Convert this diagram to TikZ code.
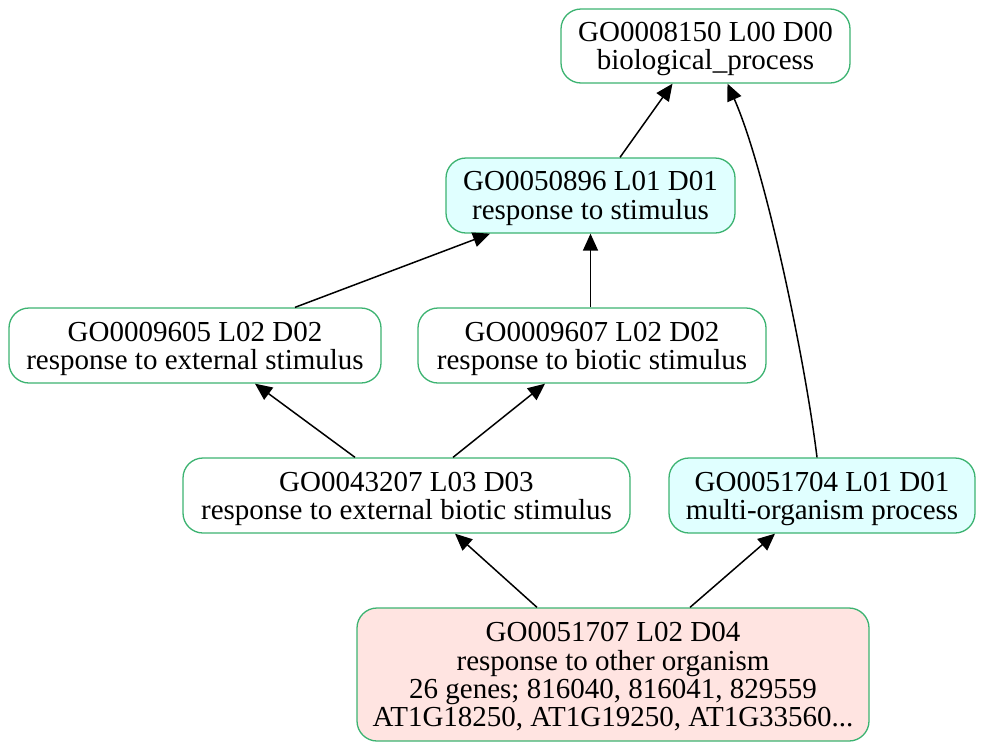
\documentclass[tikz,border=0pt]{standalone}
\usepackage{fontspec}
\setmainfont{Liberation Serif}
\usetikzlibrary{arrows.meta}
\definecolor{gobord}{RGB}{60,179,113}
\definecolor{gocyan}{RGB}{224,255,255}
\definecolor{gopink}{RGB}{255,228,225}
\begin{document}
\begin{tikzpicture}[x=1pt,y=-1pt,
  gonode/.style={draw=gobord, line width=1.3pt, rounded corners=20pt, fill=white,
    align=center, inner sep=0pt, minimum height=75pt, text depth=0pt,
    font=\fontsize{29}{28.3}\selectfont},
  edge/.style={line width=1.5pt, -{Triangle[length=17pt,width=15pt]}}]
\useasboundingbox (0,0) rectangle (984,750);
\node[gonode, minimum width=289pt, minimum height=74pt] (A) at (705.5,46) {GO0008150 L00 D00\\biological\_process};
\node[gonode, fill=gocyan, minimum width=289pt] (B) at (590.5,195.5) {GO0050896 L01 D01\\response to stimulus};
\node[gonode, minimum width=372pt] (C) at (195,345.5) {GO0009605 L02 D02\\response to external stimulus};
\node[gonode, minimum width=348pt] (D) at (592,345.5) {GO0009607 L02 D02\\response to biotic stimulus};
\node[gonode, minimum width=447pt] (E) at (406.5,495.5) {GO0043207 L03 D03\\response to external biotic stimulus};
\node[gonode, fill=gocyan, minimum width=306pt] (F) at (822,495.5) {GO0051704 L01 D01\\multi-organism process};
\node[gonode, fill=gopink, minimum width=512pt, minimum height=133pt] (G) at (613,674.5) {GO0051707 L02 D04\\response to other organism\\26 genes; 816040, 816041, 829559\\AT1G18250, AT1G19250, AT1G33560...};
\draw[edge] ([xshift=29.5pt]B.north) -- ([xshift=-33pt]A.south);
\draw[edge] ([xshift=-5pt]F.north) .. controls ([xshift=-17pt,yshift=98pt]F.north) and ([xshift=60pt,yshift=-86pt]A.south) .. ([xshift=22pt]A.south);
\draw[edge] ([xshift=100pt]C.north) -- ([xshift=-100.5pt]B.south);
\draw[edge] ([xshift=-1.5pt]D.north) -- (B.south);
\draw[edge] ([xshift=-51.5pt]E.north) -- ([xshift=60pt]C.south);
\draw[edge] ([xshift=46.5pt]E.north) -- ([xshift=-47pt]D.south);
\draw[edge] ([xshift=-76pt]G.north) -- ([xshift=48.5pt]E.south);
\draw[edge] ([xshift=77pt]G.north) -- ([xshift=-47pt]F.south);
\end{tikzpicture}
\end{document}
